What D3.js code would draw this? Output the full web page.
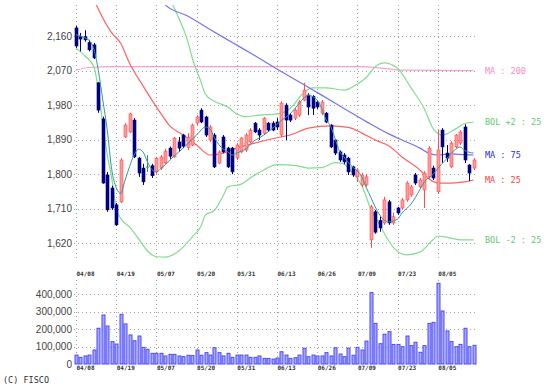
<!DOCTYPE html>
<html><head><meta charset="utf-8">
<script src="https://cdn.jsdelivr.net/npm/d3@7"></script>
<style>body{margin:0;background:#fff}svg{display:block}</style>
</head><body><svg id="c" width="554" height="391"></svg>
<script>
// ---- data ----
const dateLabels = ["04/08","04/19","05/07","05/20","05/31","06/13","06/26","07/09","07/23","08/05"];
const dateIdx = [0,9,18,27,36,45,54,63,72,81];
const priceTicks = [1620,1710,1800,1890,1980,2070,2160];
const volTicks = [0,100000,200000,300000,400000];

const open  = [2181,2158,2158,2143,2137,2038,1944,1798,1764,1720,1728,1897,1910,1941,1842,1816,1820,1822,1806,1816,1829,1868,1845,1884,1902,1870,1876,1933,1967,1949,1889,1902,1829,1897,1868,1868,1842,1858,1863,1884,1933,1915,1907,1933,1933,1936,1902,1980,1954,1946,1954,1993,2006,2003,1988,1959,1959,1928,1889,1858,1850,1842,1819,1793,1772,1772,1629,1702,1680,1673,1728,1673,1712,1712,1733,1746,1798,1767,1759,1793,1816,1754,1915,1855,1819,1871,1881,1923,1824,1816];
const high  = [2186,2168,2175,2150,2142,2040,1950,1806,1770,1725,1842,1933,1960,1946,1845,1827,1850,1827,1845,1850,1866,1872,1897,1897,1905,1907,1932,1954,1972,1952,1928,1907,1862,1902,1871,1871,1881,1897,1907,1920,1936,1920,1949,1936,1938,1946,1990,1985,1959,1972,1993,2038,2011,2006,1993,1993,1962,1930,1892,1862,1855,1845,1822,1816,1803,1800,1720,1707,1690,1741,1733,1700,1715,1738,1782,1772,1803,1790,1808,1873,1822,1915,1920,1876,1886,1905,1915,1930,1826,1842];
const low   = [2129,2120,2145,2120,2100,1960,1775,1702,1707,1665,1725,1894,1907,1842,1793,1772,1806,1790,1798,1811,1826,1840,1842,1858,1868,1863,1873,1928,1933,1897,1884,1816,1826,1855,1816,1800,1837,1855,1858,1881,1907,1889,1902,1910,1912,1915,1897,1889,1936,1941,1949,1990,1954,1954,1970,1954,1933,1868,1850,1832,1826,1798,1793,1780,1767,1767,1608,1645,1650,1668,1668,1668,1694,1707,1728,1741,1772,1762,1712,1788,1785,1749,1829,1832,1816,1868,1876,1829,1782,1811];
const close = [2134,2152,2150,2124,2103,1967,1777,1707,1712,1668,1837,1928,1957,1845,1803,1780,1820,1796,1842,1845,1860,1847,1894,1868,1873,1895,1928,1949,1936,1902,1923,1819,1858,1858,1819,1806,1876,1894,1902,1915,1910,1902,1946,1915,1915,1923,1985,1941,1941,1967,1988,2019,1975,1972,1975,1988,1936,1871,1855,1837,1832,1806,1798,1811,1798,1793,1715,1649,1660,1733,1673,1689,1699,1733,1777,1767,1777,1785,1803,1868,1790,1863,1871,1842,1881,1902,1910,1837,1803,1837];
const volume = [51,38,46,51,80,204,280,217,128,114,284,229,166,133,160,95,84,61,61,61,46,55,55,46,42,50,48,80,50,65,51,93,65,46,61,38,51,51,51,38,38,46,32,32,28,34,70,51,32,36,51,90,42,51,46,46,65,46,93,57,42,91,50,95,80,131,408,232,116,170,185,112,112,99,160,105,124,67,105,232,238,461,303,189,128,99,112,204,99,107].map(v=>v*1000);

const ma200Idx = [0,3,8,40,64,68,73,89];
const ma200Val = [2071,2078,2080,2080,2080,2077,2071,2070];
const ma75Idx = [19,20,25,30,35,40,45,50,55,60,65,70,73,77,79,81,84,87,89];
const ma75Val = [2254,2241,2212,2177,2143,2109,2074,2040,2006,1971,1937,1905,1889,1868,1855,1850,1853,1851,1850];
const ma25Idx = [4,6,8,10,12,15,17,19,21,24,27,30,33,36,40,45,48,52,57,61,64,67,70,73,77,79,81,84,87,89];
const ma25Val = [2255,2207,2168,2141,2089,2030,1993,1958,1926,1902,1876,1850,1855,1868,1881,1895,1902,1920,1926,1922,1907,1889,1874,1845,1811,1788,1777,1777,1780,1785];
const bolUpIdx = [21,22,23,25,26,28,29,31,34,36,38,41,45,48,51,53,56,60,63,65,67,69,72,75,78,80,82,85,87,89];
const bolUpVal = [2259,2233,2207,2147,2104,2040,2008,1990,1975,1957,1950,1954,1957,1972,2012,2025,2025,2019,2035,2052,2080,2090,2076,2025,1970,1918,1902,1918,1932,1936];
const bolDnIdx = [0,2,4,5,6,7,8,9,10,12,14,16,18,20,23,26,28,29,31,33,34,37,39,42,45,49,52,55,58,60,61,64,66,68,71,74,77,80,81,83,86,89];
const bolDnVal = [2129,2108,2080,2020,1930,1850,1790,1712,1685,1662,1632,1600,1585,1584,1600,1636,1665,1694,1706,1745,1767,1774,1790,1811,1825,1823,1816,1817,1830,1827,1815,1770,1710,1668,1610,1590,1597,1630,1639,1636,1629,1629];
const ma5Idx = [0,1,2,3,4,5,6,7,8,9,10,11,12,13,14,15,16,17,18,19,20,21,24,27,29,30,31,32,33,34,35,36,38,40,41,43,46,48,50,51,52,53,54,55,56,57,58,59,60,61,62,63,64,65,66,67,68,70,72,73,75,77,78,80,81,83,85,86,87,89];
const ma5Val = [2163,2160,2155,2148,2125,2070,1993,1915,1812,1765,1750,1785,1820,1850,1865,1858,1832,1812,1806,1815,1825,1837,1868,1902,1923,1918,1895,1877,1865,1858,1850,1855,1866,1888,1894,1910,1940,1958,1985,1998,2006,2002,1993,1972,1942,1925,1893,1860,1845,1830,1818,1808,1793,1765,1740,1715,1694,1676,1683,1699,1722,1760,1780,1800,1815,1840,1865,1871,1862,1855];

// ---- drawing ----
const svg = d3.select("#c");
const x = d3.scaleLinear().domain([0,89]).range([76,473.5]);
const y = d3.scaleLinear().domain([1620,2160]).range([243.3,36]);
const yv = d3.scaleLinear().domain([0,400000]).range([364,294]);
const gridCol = "#a0a0a0";
const dash = "1,3";

svg.append("defs").append("clipPath").attr("id","clipP")
  .append("rect").attr("x",70).attr("y",5).attr("width",410).attr("height",255);

// grids
const gp = svg.append("g");
priceTicks.forEach(t=>{
  gp.append("line").attr("x1",74).attr("x2",476).attr("y1",Math.round(y(t))+0.5).attr("y2",Math.round(y(t))+0.5)
    .attr("stroke",gridCol).attr("stroke-dasharray",dash);
});
dateIdx.forEach(i=>{
  gp.append("line").attr("x1",Math.round(x(i))+0.5).attr("x2",Math.round(x(i))+0.5).attr("y1",5).attr("y2",260)
    .attr("stroke",gridCol).attr("stroke-dasharray",dash);
  gp.append("line").attr("x1",Math.round(x(i))+0.5).attr("x2",Math.round(x(i))+0.5).attr("y1",280).attr("y2",364)
    .attr("stroke",gridCol).attr("stroke-dasharray",dash);
});
volTicks.filter(t=>t>0).forEach(t=>{
  gp.append("line").attr("x1",74).attr("x2",476).attr("y1",Math.round(yv(t))+0.5).attr("y2",Math.round(yv(t))+0.5)
    .attr("stroke",gridCol).attr("stroke-dasharray",dash);
});

// axes labels
const axisFont = "Liberation Sans, Arial, sans-serif";
const ay = svg.append("g").attr("transform","translate(72,0)")
  .call(d3.axisLeft(y).tickValues(priceTicks).tickSize(0).tickPadding(0).tickFormat(d3.format(",")));
const av = svg.append("g").attr("transform","translate(72,0)")
  .call(d3.axisLeft(yv).tickValues(volTicks).tickSize(0).tickPadding(0).tickFormat(d3.format(",")));
[ay,av].forEach(a=>{
  a.select(".domain").remove();
  a.selectAll("text").attr("font-family",axisFont).attr("font-size",10).attr("fill","#444");
});
const dateFont = "DejaVu Sans Mono, monospace";
[276,370].forEach(yy=>{
  const ax = svg.append("g").attr("transform",`translate(0,${yy})`)
    .call(d3.axisBottom(x).tickValues(dateIdx).tickSize(0).tickPadding(0).tickFormat((d,i)=>dateLabels[i]));
  ax.select(".domain").remove();
  ax.selectAll("text").attr("font-family",dateFont).attr("font-size",6).attr("font-weight","bold")
    .attr("fill","#333").attr("text-anchor","start").attr("dy","0").attr("y",0);
});

// lines
const plot = svg.append("g").attr("clip-path","url(#clipP)");
function drawLine(idx, val, col, w){
  const pts = idx.map((d,i)=>[d,val[i]]);
  plot.append("path").datum(pts)
    .attr("d", d3.line().x(d=>x(d[0])).y(d=>y(d[1])).curve(d3.curveMonotoneX))
    .attr("fill","none").attr("stroke",col).attr("stroke-width",w);
}
drawLine(ma200Idx, ma200Val, "#ff9fd0", 1.2);
drawLine(bolUpIdx, bolUpVal, "#80dd90", 1.2);
drawLine(bolDnIdx, bolDnVal, "#80dd90", 1.2);
drawLine(ma75Idx, ma75Val, "#7474f4", 1.2);
drawLine(ma25Idx, ma25Val, "#ff6060", 1.2);

// candles
const cg = plot.append("g");
open.forEach((o,i)=>{
  const c = close[i];
  const up = c > o, doji = c === o;
  const col = doji ? "#339933" : (up ? "#ff4d4d" : "#000080");
  const fill = doji ? "#339933" : (up ? "#ff9a9a" : "#000080");
  const cx = Math.round(x(i)) + 0.5;
  cg.append("line").attr("x1",cx).attr("x2",cx).attr("y1",y(high[i])).attr("y2",y(low[i]))
    .attr("stroke",col).attr("stroke-width",1);
  const top = y(Math.max(o,c)), bot = y(Math.min(o,c));
  cg.append("rect").attr("x",cx-1.5).attr("width",3)
    .attr("y",top).attr("height",Math.max(1,bot-top))
    .attr("fill",fill).attr("stroke",doji?"none":col).attr("stroke-width",0.6);
});
drawLine(ma5Idx, ma5Val, "#2f9a9a", 1);

// volume
const vg = svg.append("g");
volume.forEach((v,i)=>{
  const cx = Math.round(x(i));
  vg.append("rect").attr("x",cx-1).attr("width",3).attr("y",yv(v)).attr("height",yv(0)-yv(v))
    .attr("fill","#a8a8ff").attr("stroke","#4a4aff").attr("stroke-width",1);
});

// legend labels
const legFont = "DejaVu Sans Mono, monospace";
const leg = [
  ["MA : 200", ma200Val, "#ff88c4"],
  ["BOL +2 : 25", bolUpVal, "#5fcc70"],
  ["MA : 75", ma75Val, "#2a2aee"],
  ["MA : 25", ma25Val, "#ff4040"],
  ["BOL -2 : 25", bolDnVal, "#5fcc70"]
];
leg.forEach(([t,arr,col])=>{
  svg.append("text").attr("x",485).attr("y",y(arr[arr.length-1])).attr("dy","0.35em")
    .attr("font-family",legFont).attr("font-size",8.5).attr("fill",col).text(t);
});

svg.append("text").attr("x",3).attr("y",383).attr("font-family",legFont).attr("font-size",8.5)
  .attr("fill","#333").text("(C) FISCO");
</script></body></html>
